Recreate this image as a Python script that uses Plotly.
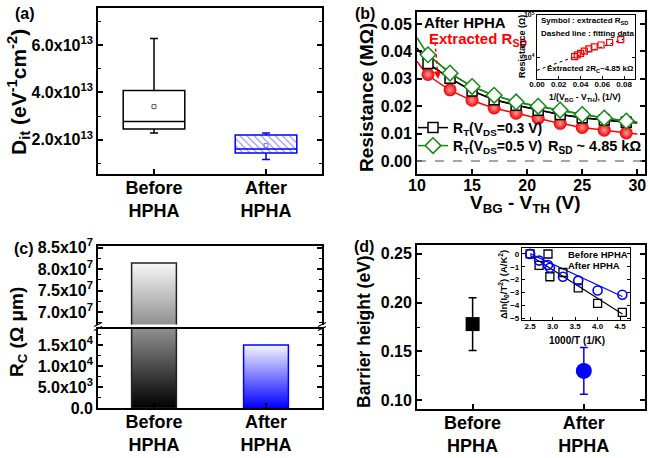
import plotly.graph_objects as go

W, H = 650, 458
FONT = "Liberation Sans, Arial, Helvetica, sans-serif"


def X(p):
    return p / W


def Y(p):
    return 1 - p / H


# ---------------- data ----------------
cats = ["Before<br>HPHA", "After<br>HPHA"]
cat_pos = [0, 1]

# (a) Dit box statistics
dit_low = [2.28e13, 1.16e13]
dit_q1 = [2.45e13, 1.44e13]
dit_med = [2.77e13, 1.61e13]
dit_q3 = [4.08e13, 2.20e13]
dit_high = [6.28e13, 2.28e13]
dit_mean = [3.40e13, 1.75e13]
dit_ticks = [2e13, 4e13, 6e13]
dit_ticktext = ["2.0x10<sup>13</sup>", "4.0x10<sup>13</sup>", "6.0x10<sup>13</sup>"]

# (b) resistance vs overdrive
vov = [11, 13, 15, 17, 19, 21, 23, 25, 27, 29]
r_sd = [0.0316, 0.0260, 0.0222, 0.0194, 0.0175, 0.0156, 0.0138, 0.0123, 0.0113, 0.0103]
r_t03 = [0.0356, 0.0302, 0.0256, 0.0224, 0.0204, 0.0186, 0.0170, 0.0158, 0.0150, 0.0142]
r_t05 = [0.0388, 0.0321, 0.0272, 0.0240, 0.0216, 0.0200, 0.0186, 0.0170, 0.0157, 0.0146]
fit_ends_x = [10, 30]
r_sd_ends = [0.0364, 0.0099]
r_t03_ends = [0.0413, 0.0139]
r_t05_ends = [0.0450, 0.0143]

# (b) inset
inv_vov = [0.0345, 0.0370, 0.0400, 0.0435, 0.0476, 0.0526, 0.0588, 0.0667, 0.0769]
r_ext = [10300, 11300, 12300, 13800, 15600, 17500, 19400, 22200, 26000]
inv_fit = [0.0, 0.034, 0.080]
r_fit = [4850, 10000, 27000]

# (c) contact resistance
rc = [8.14e7, 1.5e4]
rc_low_ticks = [0, 5e3, 1e4, 1.5e4]
rc_low_text = ["0.0", "5.0x10<sup>3</sup>", "1.0x10<sup>4</sup>", "1.5x10<sup>4</sup>"]
rc_up_ticks = [7.0e7, 7.5e7, 8.0e7, 8.5e7]
rc_up_text = ["7.0x10<sup>7</sup>", "7.5x10<sup>7</sup>", "8.0x10<sup>7</sup>", "8.5x10<sup>7</sup>"]

# (d) barrier height
phi_b = [0.178, 0.130]
phi_err = [0.027, 0.024]
inv_t = [2.50, 2.70, 2.94, 3.23, 3.57, 4.00, 4.55]
dln_before = [0.0, -0.90, -1.78, -1.45, -2.65, -3.85, -4.55]
dln_after = [0.0, -0.52, -1.08, -1.78, -2.08, -2.85, -3.18]
fit_t = [2.50, 4.55]
fit_before = [-0.12, -4.68]
fit_after = [0.02, -3.32]

# ---------------- layout geometry (pixels) ----------------
dom = {
    "a": (98, 322, 8, 174),
    "b": (417, 645, 12, 174),
    "bi": (537, 635, 15, 79),
    "cl": (98, 322, 328.5, 408),
    "cu": (98, 322, 246, 324.5),
    "d": (417, 645, 245, 409),
    "di": (522, 630, 248, 320),
}


def xd(k):
    l, r, t, b = dom[k]
    return [X(l), X(r)]


def yd(k):
    l, r, t, b = dom[k]
    return [Y(b), Y(t)]


def tf(size):
    return dict(family=FONT, size=size, color="black", weight="bold")


def axis(**kw):
    base = dict(showline=True, linecolor="black", linewidth=1.8, ticks="inside",
                ticklen=5, tickwidth=1.5, tickcolor="black", showgrid=False,
                zeroline=False, automargin=False, tickfont=tf(16))
    base.update(kw)
    return base


fig = go.Figure()

# ---------------- (a) ----------------
fig.add_trace(go.Bar(x=[cat_pos[1]], base=[dit_q1[1]], y=[dit_q3[1] - dit_q1[1]],
                     width=0.55, xaxis="x", yaxis="y", showlegend=False,
                     marker=dict(color="white", line=dict(width=0),
                                 pattern=dict(shape="\\", fgcolor="#7f7fff", bgcolor="white",
                                              size=5, solidity=0.2))))
for i, col in enumerate(["black", "#0000ff"]):
    fig.add_trace(go.Box(x=[cat_pos[i]], q1=[dit_q1[i]], median=[dit_med[i]], q3=[dit_q3[i]],
                         lowerfence=[dit_low[i]], upperfence=[dit_high[i]],
                         width=0.55, whiskerwidth=0.13, boxpoints=False,
                         line=dict(color=col, width=1.5), fillcolor="rgba(0,0,0,0)",
                         xaxis="x", yaxis="y", showlegend=False))
fig.add_trace(go.Scatter(x=cat_pos, y=dit_mean, mode="markers", xaxis="x", yaxis="y",
                         showlegend=False,
                         marker=dict(symbol="square-open", size=4, color=["#555555", "#7777ff"],
                                     line=dict(width=1))))

# ---------------- (b) ----------------
fig.add_trace(go.Scatter(x=[fit_ends_x[0]] + vov + [fit_ends_x[1]],
                         y=[r_sd_ends[0]] + r_sd + [r_sd_ends[1]],
                         mode="lines", line=dict(color="#ff0000", width=1.5, shape="spline"),
                         xaxis="x2", yaxis="y2", showlegend=False))
fig.add_trace(go.Scatter(x=vov, y=r_sd, mode="markers", xaxis="x2", yaxis="y2", showlegend=False,
                         marker=dict(symbol="circle", size=13, color="#ee0000",
                                     gradient=dict(type="radial", color="#ff9a9a"),
                                     line=dict(width=0))))
for ends, vals, col, sym, name, lg in [
    (r_t03_ends, r_t03, "black", "square", "R<sub>T</sub>(V<sub>DS</sub>=0.3 V)", "legend"),
    (r_t05_ends, r_t05, "#138a13", "diamond", "R<sub>T</sub>(V<sub>DS</sub>=0.5 V)", "legend3"),
]:
    fig.add_trace(go.Scatter(x=[fit_ends_x[0]] + vov + [fit_ends_x[1]],
                             y=[ends[0]] + vals + [ends[1]], mode="lines",
                             line=dict(color=col, width=1.5), xaxis="x2", yaxis="y2",
                             showlegend=False))
    fig.add_trace(go.Scatter(x=vov, y=vals, mode="lines+markers", name=name, legend=lg,
                             line=dict(color=col, width=1.5), xaxis="x2", yaxis="y2",
                             marker=dict(symbol=sym, size=12 if sym == "diamond" else 10,
                                         color="white", line=dict(color=col, width=1.5))))

# (b) inset
fig.add_trace(go.Scatter(x=inv_fit, y=r_fit, mode="lines", xaxis="x3", yaxis="y3",
                         showlegend=False, line=dict(color="black", width=1, dash="dot")))
fig.add_trace(go.Scatter(x=inv_vov, y=r_ext, mode="markers", xaxis="x3", yaxis="y3",
                         showlegend=False,
                         marker=dict(symbol="square-open", size=6, color="#ff0000",
                                     line=dict(width=1.2))))

# ---------------- (c) ----------------
low_rng = [0, 1.89e4]
up_rng = [6.71e7, 8.535e7]
h_low_px = dom["cl"][3] - dom["cl"][2]
h_up_px = dom["cu"][3] - dom["cu"][2]


def mix(rgb, f):
    return "rgb(%d,%d,%d)" % tuple(round(c + (255 - c) * f) for c in rgb)


for i, (base_rgb, lc) in enumerate([((0, 0, 0), "#222222"), ((0, 0, 255), "#0000ff")]):
    v = rc[i]
    p_low = min(v, low_rng[1]) / low_rng[1] * h_low_px
    p_up = max(0.0, min(v, up_rng[1]) - up_rng[0]) / (up_rng[1] - up_rng[0]) * h_up_px
    f_mid = p_low / (p_low + p_up)
    xs = [cat_pos[i] - 0.2, cat_pos[i] - 0.2, cat_pos[i] + 0.2, cat_pos[i] + 0.2, cat_pos[i] - 0.2]
    ys = [0, v, v, 0, 0]
    fig.add_trace(go.Scatter(x=xs, y=ys, mode="lines", fill="toself", xaxis="x4", yaxis="y4",
                             showlegend=False, line=dict(color=lc, width=1.5),
                             fillgradient=dict(type="vertical", start=0, stop=min(v, low_rng[1]),
                                               colorscale=[[0, mix(base_rgb, 0.0)],
                                                           [1, mix(base_rgb, min(f_mid, 0.97))]])))
    if p_up > 0:
        fig.add_trace(go.Scatter(x=xs, y=ys, mode="lines", fill="toself", xaxis="x5", yaxis="y5",
                                 showlegend=False, line=dict(color=lc, width=1.5),
                                 fillgradient=dict(type="vertical", start=up_rng[0], stop=v,
                                                   colorscale=[[0, mix(base_rgb, f_mid)],
                                                               [1, mix(base_rgb, 0.97)]])))

# ---------------- (d) ----------------
for i, (col, sym, sz) in enumerate([("black", "square", 14), ("#0000ff", "circle", 16)]):
    fig.add_trace(go.Scatter(x=[cat_pos[i]], y=[phi_b[i]], mode="markers", xaxis="x6", yaxis="y6",
                             showlegend=False,
                             marker=dict(symbol=sym, size=sz, color=col),
                             error_y=dict(type="data", array=[phi_err[i]], color=col,
                                          thickness=1.5, width=4)))

# (d) inset
fig.add_trace(go.Scatter(x=fit_t, y=fit_before, mode="lines", xaxis="x7", yaxis="y7",
                         showlegend=False, line=dict(color="black", width=1.2)))
fig.add_trace(go.Scatter(x=fit_t, y=fit_after, mode="lines", xaxis="x7", yaxis="y7",
                         showlegend=False, line=dict(color="#0000ff", width=1.2)))
fig.add_trace(go.Scatter(x=inv_t, y=dln_before, mode="markers", xaxis="x7", yaxis="y7",
                         name="Before HPHA", legend="legend2",
                         marker=dict(symbol="square-open", size=8, color="black",
                                     line=dict(width=1.3))))
fig.add_trace(go.Scatter(x=inv_t, y=dln_after, mode="markers", xaxis="x7", yaxis="y7",
                         name="After HPHA", legend="legend4",
                         marker=dict(symbol="circle-open", size=9, color="#0000ff",
                                     line=dict(width=1.6))))

# ---------------- axes ----------------
cat_axis = dict(range=[-0.5, 1.5], tickvals=cat_pos, ticktext=cats, tickfont=tf(18), mirror=True,
                ticklabelstandoff=-4)

layout_axes = dict(
    xaxis=axis(domain=xd("a"), anchor="y", **cat_axis),
    yaxis=axis(domain=yd("a"), anchor="x", range=[0.55e13, 7.57e13], tickvals=dit_ticks,
               ticktext=dit_ticktext, mirror="allticks",
               minor=dict(tickvals=[1e13, 3e13, 5e13, 7e13], ticks="inside", ticklen=3,
                          tickcolor="black", tickwidth=1.2)),
    xaxis2=axis(domain=xd("b"), anchor="y2", range=[10, 30.7], tickvals=[10, 15, 20, 25, 30],
                mirror=True, ticklabelstandoff=-4),
    yaxis2=axis(domain=yd("b"), anchor="x2", range=[-0.0047, 0.0544],
                tickvals=[0, 0.01, 0.02, 0.03, 0.04, 0.05], tickformat=".2f", mirror="allticks"),
    xaxis3=axis(domain=xd("bi"), anchor="y3", range=[0, 0.09],
                tickvals=[0, 0.02, 0.04, 0.06, 0.08], tickformat=".2f", ticklen=3,
                linewidth=1.2, tickwidth=1, tickfont=tf(8), mirror=True, ticklabelstandoff=-3),
    yaxis3=axis(domain=yd("bi"), anchor="x3", type="log", range=[3.48, 5.0],
                tickvals=[1e4, 1e5], ticktext=["10<sup>4</sup>", "10<sup>5</sup>"], ticklen=3,
                linewidth=1.2, tickwidth=1, tickfont=tf(7), mirror="allticks"),
    xaxis4=axis(domain=xd("cl"), anchor="y4", **cat_axis),
    yaxis4=axis(domain=yd("cl"), anchor="x4", range=low_rng, tickvals=rc_low_ticks,
                ticktext=rc_low_text, mirror="allticks",
                minor=dict(tickvals=[2.5e3, 7.5e3, 1.25e4, 1.75e4], ticks="inside", ticklen=3,
                           tickcolor="black", tickwidth=1.2)),
    xaxis5=axis(domain=xd("cu"), anchor="y5", range=[-0.5, 1.5], side="top", ticks="",
                showticklabels=False),
    yaxis5=axis(domain=yd("cu"), anchor="x5", range=up_rng, tickvals=rc_up_ticks,
                ticktext=rc_up_text, mirror="allticks",
                minor=dict(tickvals=[6.75e7, 7.25e7, 7.75e7, 8.25e7], ticks="inside", ticklen=3,
                           tickcolor="black", tickwidth=1.2)),
    xaxis6=axis(domain=xd("d"), anchor="y6", **{**cat_axis, "range": [-0.5, 1.55]}),
    yaxis6=axis(domain=yd("d"), anchor="x6", range=[0.091, 0.259],
                tickvals=[0.10, 0.15, 0.20, 0.25], tickformat=".2f", mirror="allticks",
                minor=dict(tickvals=[0.125, 0.175, 0.225], ticks="inside", ticklen=3,
                           tickcolor="black", tickwidth=1.2)),
    xaxis7=axis(domain=xd("di"), anchor="y7", range=[2.32, 4.72],
                tickvals=[2.5, 3.0, 3.5, 4.0, 4.5], tickformat=".1f", ticklen=3,
                linewidth=1.2, tickwidth=1, tickfont=tf(8), mirror=True, ticklabelstandoff=-2),
    yaxis7=axis(domain=yd("di"), anchor="x7", range=[-5.15, 0.46],
                tickvals=[0, -1, -2, -3, -4, -5], ticklen=3,
                linewidth=1.2, tickwidth=1, tickfont=tf(8), mirror="allticks"),
)

# ---------------- annotations ----------------
ann = []


def text(t, x, y, size, color="black", xanchor="center", angle=0):
    ann.append(dict(text=t, x=X(x), y=Y(y), xref="paper", yref="paper", showarrow=False,
                    xanchor=xanchor, yanchor="middle", textangle=angle, borderpad=0,
                    font=dict(family=FONT, size=size, color=color, weight="bold")))


text("(a)", 25, 13, 16)
text("(b)", 365, 14, 16)
text("(c)", 24, 248, 16)
text("(d)", 364, 246, 16)
text("D<sub>it</sub> (eV<sup>-1</sup>cm<sup>-2</sup>)", 18, 92, 21, angle=-90)
text("Resistance (MΩ)", 366, 97, 19, angle=-90)
text("V<sub>BG</sub> - V<sub>TH</sub> (V)", 525, 204, 19)
text("R<sub>C</sub> (Ω μm)", 18, 332, 19, angle=-90)
text("Barrier height (eV)", 364, 332, 17.5, angle=-90)
text("After HPHA", 423, 22, 15, xanchor="left")
text("Extracted R<sub>SD</sub>", 428, 40, 15, color="#ff0000", xanchor="left")
text("R<sub>SD</sub> ~ 4.85 kΩ", 547, 147, 14.5, xanchor="left")
text("Symbol : extracted R<sub>SD</sub>", 540, 21, 8, xanchor="left")
text("Dashed line : fitting data", 540, 33, 8, xanchor="left")
text("Extracted 2R<sub>C</sub>~4.85 kΩ", 546, 69, 8, xanchor="left")
text("Resistance (Ω)", 522, 47, 9, angle=-90)
text("1/(V<sub>BG</sub> - V<sub>TH</sub>), (1/V)", 585, 97, 8.5)
text("1000/T (1/K)", 577, 340, 10)
text("Δln(I<sub>0</sub>/T<sup>2</sup>) (A/K<sup>2</sup>)", 503, 285, 9.5, angle=-90)

# arrowhead for the dashed arrow in (b)
ann.append(dict(x=11.92, y=0.0300, xref="x2", yref="y2", ax=-0.8, ay=-9, text="",
                showarrow=True, arrowhead=2, arrowsize=1, arrowwidth=1.5,
                arrowcolor="#ff0000"))

shapes = [
    dict(type="line", xref="x2", yref="y2", x0=11.64, y0=0.0432, x1=11.9, y1=0.0308,
         line=dict(color="#ff0000", width=1.5, dash="dot")),
    dict(type="line", xref="x2 domain", yref="y2", x0=0, x1=1, y0=0, y1=0,
         line=dict(color="#888888", width=1.5, dash="dash")),
]
# axis break marks for (c)
for xb in (98, 322):
    for off in (-2, 2):
        shapes.append(dict(type="line", xref="paper", yref="paper",
                           x0=X(xb - 4), y0=Y(328.5 + off), x1=X(xb + 4), y1=Y(324.5 + off),
                           line=dict(color="black", width=1.2)))


def leg(x, y, size):
    return dict(x=X(x), y=Y(y), xanchor="left", yanchor="middle", bgcolor="rgba(0,0,0,0)",
                font=tf(size), itemwidth=30, tracegroupgap=0, borderwidth=0)


fig.update_layout(
    template="none",
    width=W, height=H, margin=dict(l=0, r=0, t=0, b=0, pad=0),
    paper_bgcolor="white", plot_bgcolor="white",
    font=dict(family=FONT, color="black", weight="bold"),
    annotations=ann, shapes=shapes,
    legend=leg(413, 128, 14),
    legend3=leg(413, 146, 14),
    legend2=leg(528, 254, 9.5),
    legend4=leg(528, 265, 9.5),
    **layout_axes,
)

fig.write_html("out.html", config={"displayModeBar": False},
               post_script="document.body.style.margin='0px';document.body.style.padding='0px';")
